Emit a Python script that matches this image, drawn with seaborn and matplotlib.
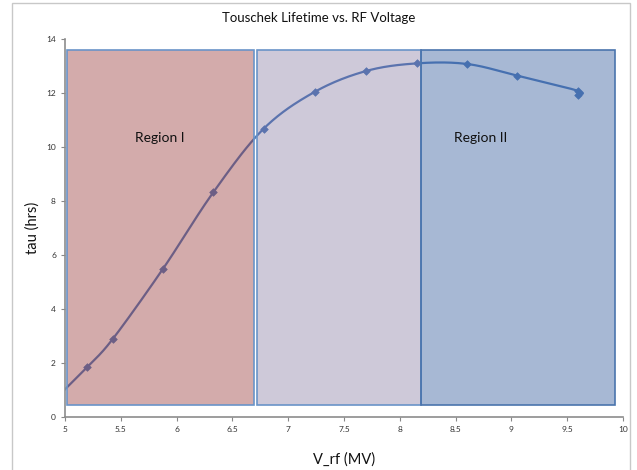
import matplotlib
matplotlib.use("Agg")
import matplotlib.pyplot as plt
import matplotlib.patches as mpatches
import numpy as np
import pandas as pd
import seaborn as sns

# data
v_rf = [4.97, 5.20, 5.43, 5.88, 6.33, 6.78, 7.24, 7.70, 8.15, 8.60, 9.05, 9.60, 9.60]
tau = [0.90, 1.85, 2.90, 5.50, 8.33, 10.68, 12.05, 12.82, 13.10, 13.08, 12.65, 12.08, 11.93]

region_names = ["Region I", "", "Region II"]
region_x0 = [5.02, 6.72, 8.19]
region_x1 = [6.69, 8.19, 9.93]
label_x = [5.85, 0, 8.72]
region_y0 = 0.45
region_y1 = 13.6
region_colors = [(0.59, 0.22, 0.22, 0.42), (0.45, 0.40, 0.58, 0.35), (0.24, 0.39, 0.63, 0.45)]
region_edges = ["#6a94c8", "#6a94c8", "#4a74ad"]

line_color = "#4f7bbd"


def smooth(x, y, n=30):
    # Catmull-Rom spline through the points (like Excel's smoothed line)
    p = np.column_stack([x, y])
    p = np.vstack([p[0], p, p[-1]])
    out = []
    for i in range(1, len(p) - 2):
        p0, p1, p2, p3 = p[i - 1], p[i], p[i + 1], p[i + 2]
        t = np.linspace(0, 1, n)[:, None]
        c = 0.5 * ((2 * p1) + (-p0 + p2) * t + (2 * p0 - 5 * p1 + 4 * p2 - p3) * t ** 2
                   + (-p0 + 3 * p1 - 3 * p2 + p3) * t ** 3)
        out.append(c)
    out = np.vstack(out)
    return out[:, 0], out[:, 1]


sns.set_style("white")
plt.rcParams['font.family'] = ['Lato', 'DejaVu Sans']

fig = plt.figure(figsize=(6.37, 4.7), dpi=100)
ax = fig.add_axes([0.102, 0.1128, 0.876, 0.804])

sx, sy = smooth(v_rf, tau)
ax.plot(sx, sy, color=line_color, lw=1.6, zorder=2, solid_capstyle="butt")
df = pd.DataFrame({"v_rf": v_rf[1:], "tau": tau[1:]})
sns.scatterplot(data=df, x="v_rf", y="tau", marker="D", s=15, color=line_color,
                edgecolor=line_color, linewidth=0.5, ax=ax, zorder=3)

for name, lx, x0, x1, fc, ec in zip(region_names, label_x, region_x0, region_x1,
                                    region_colors, region_edges):
    ax.add_patch(mpatches.Rectangle((x0, region_y0), x1 - x0, region_y1 - region_y0,
                                    facecolor=fc, edgecolor=ec, lw=1.2, zorder=4))
    if name:
        ax.text(lx, 10.33, name, ha="center", va="center",
                fontsize=10, color="#111111", zorder=5)

ax.set_xlim(5, 10)
ax.set_ylim(0, 14)
ax.set_xticks(np.arange(5, 10.01, 0.5))
ax.set_xticklabels(["5", "5.5", "6", "6.5", "7", "7.5", "8", "8.5", "9", "9.5", "10"])
ax.set_yticks(np.arange(0, 14.1, 2))
ax.tick_params(axis="both", labelsize=6, colors="#333333", length=3, width=0.8,
               direction="out", bottom=True, left=True, color="#888888")
for s in ["top", "right"]:
    ax.spines[s].set_visible(False)
for s in ["left", "bottom"]:
    ax.spines[s].set_color("#8c8c8c")
    ax.spines[s].set_linewidth(1.2)

ax.set_xlabel("V_rf (MV)", fontsize=10.5, color="#111111", labelpad=14)
ax.set_ylabel("tau (hrs)", fontsize=10.5, color="#111111", labelpad=5)
fig.text(0.5, 0.962, "Touschek Lifetime vs. RF Voltage", ha="center", va="center",
         fontsize=9.5, color="#111111")

# chart-area border
fig.patches.append(mpatches.Rectangle((0.019, -0.02), 0.970, 1.0136, transform=fig.transFigure,
                                      fill=False, edgecolor="#c8c8c8", lw=1.0))

fig.savefig("out.png", dpi=100)
